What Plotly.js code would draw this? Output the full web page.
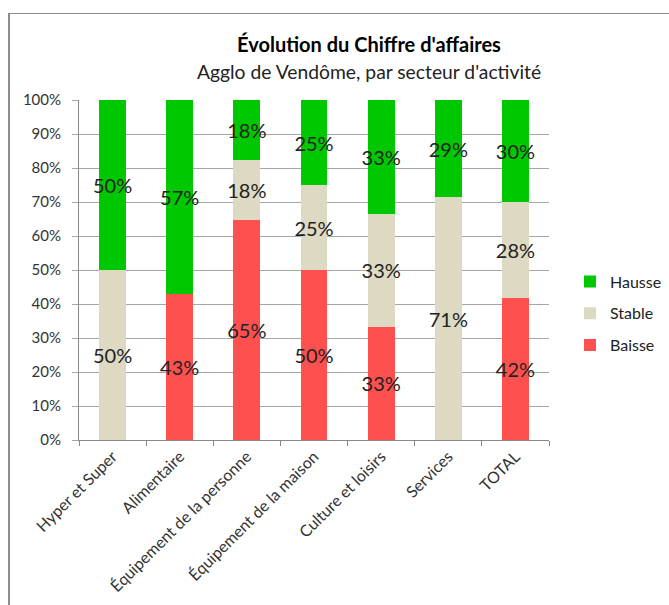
<!DOCTYPE html>
<html>
<head>
<meta charset="utf-8">
<script src="https://cdn.plot.ly/plotly-3.0.1.min.js"></script>
<style>html,body{margin:0;padding:0;background:#fff;}#chart{width:669px;height:605px;}</style>
</head>
<body>
<div id="chart"></div>
<script>
const categories = ["Hyper et Super", "Alimentaire", "Équipement de la personne", "Équipement de la maison", "Culture et loisirs", "Services", "TOTAL"];
const baisse = [0, 42.9, 64.7, 50, 33.3, 0, 41.7];
const stable = [50, 0, 17.6, 25, 33.3, 71.4, 28.3];
const hausse = [50, 57.1, 17.6, 25, 33.3, 28.6, 30];
const yTicks = [0, 10, 20, 30, 40, 50, 60, 70, 80, 90, 100];

const FONT = "Lato, 'Open Sans', sans-serif";
function labels(arr) { return arr.map(v => v > 0 ? Math.round(v) + "%" : ""); }

function mk(name, vals, color, group, rank) {
  return {
    type: "bar", name: name, x: categories, y: vals,
    marker: {color: color, line: {width: 0}},
    text: labels(vals), textposition: "inside", insidetextanchor: "middle",
    textangle: 0, constraintext: "none", cliponaxis: false,
    textfont: {family: FONT, size: 20, color: "#222"},
    hoverinfo: "none", legendgroup: group, legendrank: rank
  };
}

const data = [
  mk("Baisse", baisse, "#FF5050", "a", 3),
  mk("Stable", stable, "#DDD9C3", "b", 2),
  mk("Hausse", hausse, "#00C800", "c", 1)
];

const W = 669, H = 605;
const L = 79, R = 549, T = 100, B = 440;
const px = v => (v - L) / (R - L);
const py = v => (B - v) / (B - T);
const layout = {
  width: W, height: H,
  margin: {l: L, r: W - R, t: T, b: H - B, pad: 0, autoexpand: false},
  paper_bgcolor: "#fff", plot_bgcolor: "#fff",
  barmode: "stack", bargap: 0.6,
  font: {family: FONT, size: 13, color: "#333"},
  title: {
    text: "<b>Évolution du Chiffre d'affaires</b>",
    font: {family: FONT, size: 20, color: "#000"},
    x: 369 / W, xanchor: "center", y: 1 - 45 / H, yanchor: "middle"
  },
  annotations: [{
    text: "Agglo de Vendôme, par secteur d'activité",
    xref: "paper", yref: "paper", x: px(368.5), y: py(71),
    xanchor: "center", yanchor: "middle", showarrow: false,
    font: {family: FONT, size: 19.3, color: "#222"}
  }],
  xaxis: {
    type: "category", tickangle: -45, tickson: "boundaries",
    ticks: "outside", ticklen: 5, tickcolor: "#888",
    showline: true, linecolor: "#888", linewidth: 1,
    tickfont: {family: FONT, size: 16, color: "#333"}, fixedrange: true
  },
  yaxis: {
    range: [0, 100], tickvals: yTicks, ticktext: yTicks.map(v => v + "%"),
    ticks: "outside", ticklen: 6, tickcolor: "#A6A6A6", ticklabelstandoff: 8,
    showgrid: true, gridcolor: "#A6A6A6", gridwidth: 1,
    showline: true, linecolor: "#888", linewidth: 1, zeroline: false,
    tickfont: {family: FONT, size: 15, color: "#333"}, fixedrange: true
  },
  legend: {
    xref: "container", yref: "container",
    x: 570 / W, xanchor: "left",
    y: 1 - 313.5 / H, yanchor: "middle",
    traceorder: "grouped", tracegroupgap: 8,
    font: {family: FONT, size: 16, color: "#222"}, bgcolor: "rgba(0,0,0,0)"
  },
  shapes: [
    {type: "line", xref: "paper", yref: "paper",
     x0: px(9), x1: px(9), y0: py(H + 2), y1: py(13.5),
     line: {color: "#8C8C8C", width: 2}},
    {type: "line", xref: "paper", yref: "paper",
     x0: px(8), x1: px(W + 2), y0: py(13.5), y1: py(13.5),
     line: {color: "#8C8C8C", width: 1.2}}
  ],
  showlegend: true
};

Plotly.newPlot("chart", data, layout, {displayModeBar: false, staticPlot: true});
</script>
</body>
</html>
